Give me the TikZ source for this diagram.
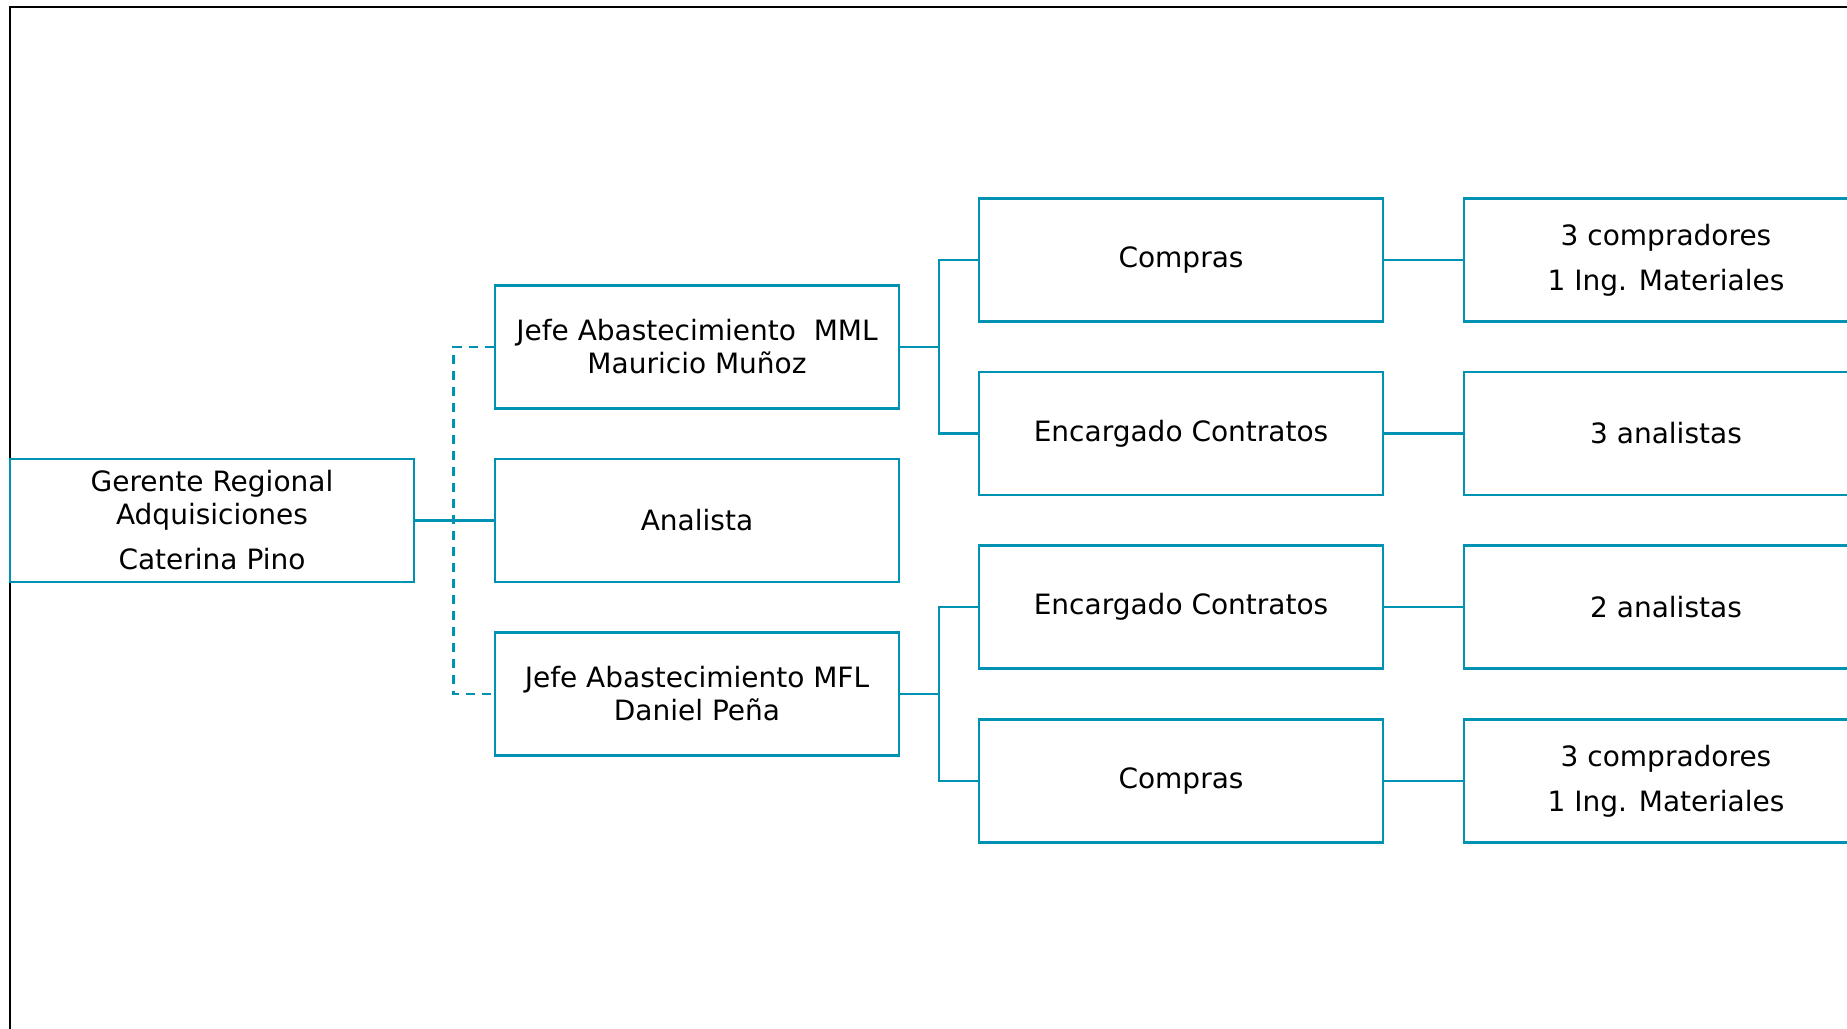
\documentclass[tikz,border=0pt]{standalone}
\usepackage{fontspec}
\setmainfont{DejaVu Sans}
\definecolor{teal1}{RGB}{0,146,178}
\begin{document}
\begin{tikzpicture}[x=1pt,y=-1pt,
  box/.style={draw=teal1, line width=2.6pt, fill=white, minimum width=404pt, minimum height=123pt,
    inner sep=0pt, align=center, font=\fontsize{28}{33}\selectfont},
  link/.style={draw=teal1, line width=2.6pt},
  dlink/.style={draw=teal1, line width=2.4pt, dash pattern=on 9pt off 7pt}]
\useasboundingbox (0,0) rectangle (1847,1028);
\fill[white] (0,0) rectangle (1847,1028);
\draw[black, line width=2pt] (9.5,1040) -- (9.5,7) -- (1860,7);
% level 1
\node[box] (ger) at (212,520.5) {Gerente Regional\\Adquisiciones\\[12pt]Caterina Pino};
% level 2
\node[box] (mml) at (697,347) {Jefe Abastecimiento\ \ MML\\Mauricio Muñoz};
\node[box] (ana) at (697,520.5) {Analista};
\node[box] (mfl) at (697,694) {Jefe Abastecimiento MFL\\Daniel Peña};
% level 3
\node[box] (c1) at (1181,260) {Compras};
\node[box] (e1) at (1181,433.5) {Encargado Contratos};
\node[box] (e2) at (1181,607) {Encargado Contratos};
\node[box] (c2) at (1181,781) {Compras};
% level 4
\node[box] (c1r) at (1666,260) {3 compradores\\[12pt]1 Ing. Materiales};
\node[box] (e1r) at (1666,433.5) {3 analistas};
\node[box] (e2r) at (1666,607) {2 analistas};
\node[box] (c2r) at (1666,781) {3 compradores\\[12pt]1 Ing. Materiales};
% connectors
\coordinate (dx) at (453.5,520.5);
\coordinate (b1) at (939,347);
\coordinate (b2) at (939,694);
\draw[dlink] (mml.west) -| (dx) |- (mfl.west);
\draw[link] (ger.east) -- (ana.west);
\draw[link] (mml.east) -- (b1);
\draw[link] (c1.west) -| (b1) |- (e1.west);
\draw[link] (mfl.east) -- (b2);
\draw[link] (e2.west) -| (b2) |- (c2.west);
\draw[link] (c1.east) -- (c1r.west);
\draw[link] (e1.east) -- (e1r.west);
\draw[link] (e2.east) -- (e2r.west);
\draw[link] (c2.east) -- (c2r.west);
\end{tikzpicture}
\end{document}
